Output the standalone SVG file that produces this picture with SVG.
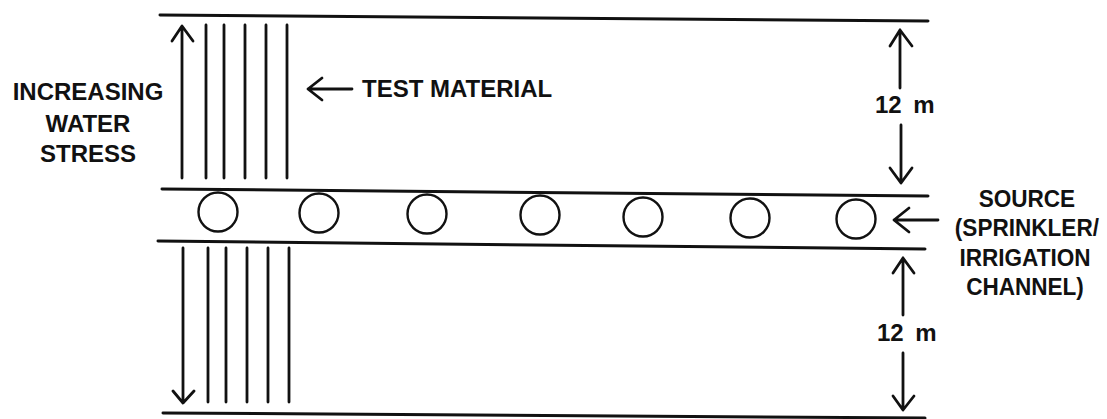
<svg xmlns="http://www.w3.org/2000/svg" width="1107" height="419" viewBox="0 0 1107 419">
<style>
.ln{stroke:#111;stroke-width:3;fill:none;stroke-linecap:round}
.thin{stroke:#111;stroke-width:2.8;fill:none;stroke-linecap:round;stroke-linejoin:round}
.c{stroke:#111;stroke-width:2.4;fill:none}
.t{font-family:"Liberation Sans",Arial,sans-serif;font-weight:bold;font-size:24px;fill:#111}
</style>
<rect width="1107" height="419" fill="#fff"/>
<g id="field">
<path class="ln" d="M160 15 L928 21"/>
<path class="ln" d="M162 189 L928 196"/>
<path class="ln" d="M158 241 L925 249"/>
<path class="ln" d="M163 413 L925 418"/>
</g>
<g id="test-material-top">
<path class="thin" d="M206 25 V178 M224 25 V178 M245 25 V178 M266 25 V178 M287 25 V178"/>
</g>
<g id="test-material-bottom">
<path class="thin" d="M208 248 V402 M226 248 V402 M247 248 V402 M268 248 V402 M289 248 V402"/>
</g>
<g id="sprinklers">
<circle class="c" cx="218" cy="212" r="19.5"/>
<circle class="c" cx="319" cy="213" r="19.5"/>
<circle class="c" cx="427" cy="214" r="19.5"/>
<circle class="c" cx="540" cy="215" r="19.5"/>
<circle class="c" cx="643" cy="217" r="19.5"/>
<circle class="c" cx="750" cy="218" r="19.5"/>
<circle class="c" cx="856" cy="219" r="19.5"/>
</g>
<g id="connectors">
<path class="thin" d="M182 178 V27 M172 41 L182 26 L193 41"/>
<path class="thin" d="M183 248 V402 M173 391 L183 403 L194 391"/>
<path class="thin" d="M352 89 H308 M322 78 L308 89 L322 100"/>
<path class="thin" d="M900 88 V30 M890 46 L900 30 L912 46"/>
<path class="thin" d="M901 125 V183 M890 168 L901 183 L912 168"/>
<path class="thin" d="M903 315 V258 M893 273 L903 258 L914 273"/>
<path class="thin" d="M903 353 V410 M893 396 L903 410 L914 396"/>
<path class="thin" d="M938 220 H894 M909 208 L894 220 L909 232"/>
</g>
<g id="label-stress">
<text class="t" x="88" y="100" text-anchor="middle">INCREASING</text>
<text class="t" x="88" y="132" text-anchor="middle">WATER</text>
<text class="t" x="88" y="162" text-anchor="middle">STRESS</text>
</g>
<g id="label-test">
<text class="t" x="362" y="97">TEST MATERIAL</text>
</g>
<g id="label-12m-top">
<text class="t" x="875" y="113" word-spacing="5">12 m</text>
</g>
<g id="label-12m-bottom">
<text class="t" x="877" y="341" word-spacing="5">12 m</text>
</g>
<g id="label-source" transform="translate(1025 0) scale(0.94 1)">
<text class="t" x="2" y="207" text-anchor="middle" font-size="26">SOURCE</text>
<text class="t" x="2" y="236" text-anchor="middle" font-size="26">(SPRINKLER/</text>
<text class="t" x="0" y="266" text-anchor="middle" font-size="26">IRRIGATION</text>
<text class="t" x="0" y="295" text-anchor="middle" font-size="26">CHANNEL)</text>
</g>
</svg>
